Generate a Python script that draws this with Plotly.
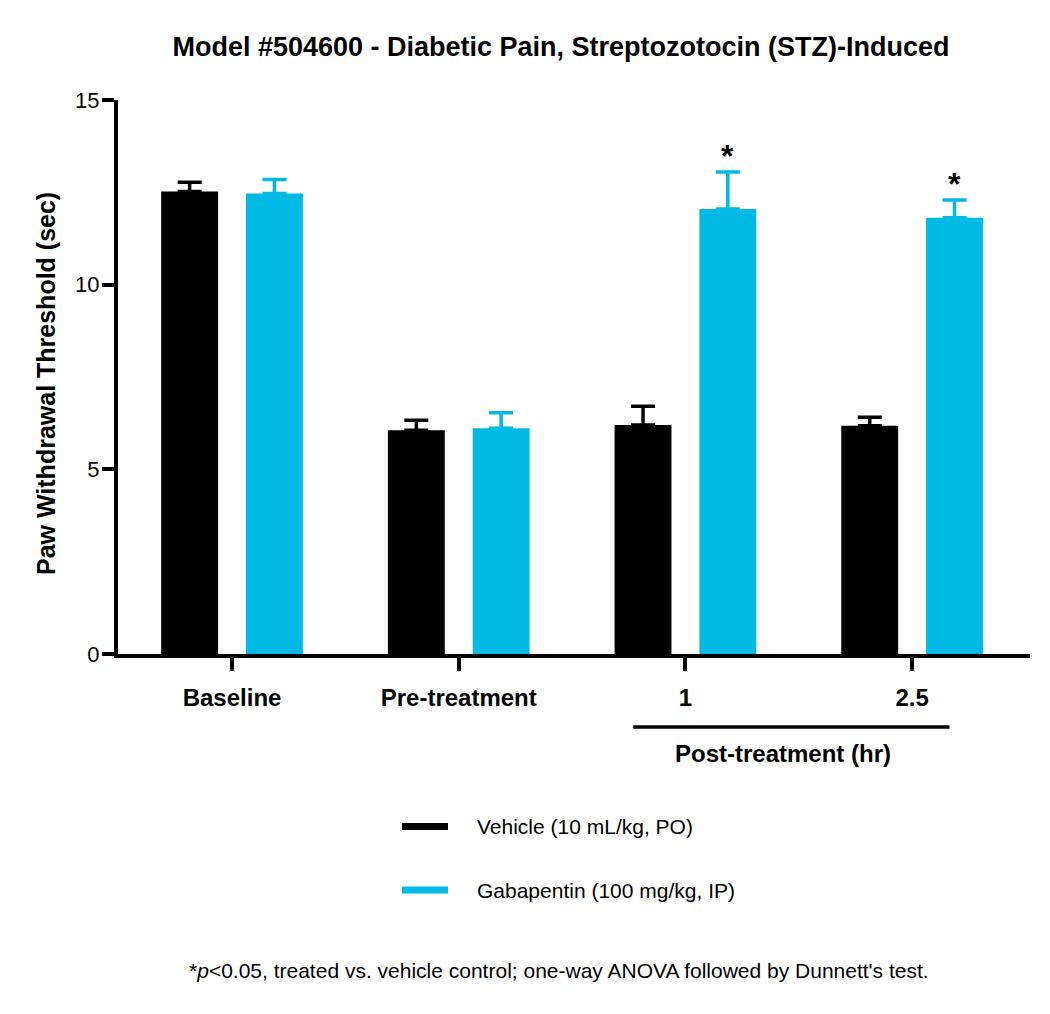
import plotly.graph_objects as go

categories = ["Baseline", "Pre-treatment", "1", "2.5"]
vehicle_mean = [12.52, 6.06, 6.20, 6.18]
vehicle_err = [0.25, 0.27, 0.51, 0.23]
gaba_mean = [12.47, 6.11, 12.05, 11.81]
gaba_err = [0.38, 0.42, 1.00, 0.48]
significant = [False, False, True, True]

vehicle_name = "Vehicle (10 mL/kg, PO)"
gaba_name = "Gabapentin (100 mg/kg, IP)"
col_vehicle = "#000000"
col_gaba = "#00B9E4"

FONT = "Arial, 'Liberation Sans', sans-serif"
BARGAP = 0.252
BARGROUPGAP = 0.329

# plot-area geometry (screen px) used to place decorations in paper coordinates
PL, PR, PT, PB = 118, 1030, 100, 654


def px(xp):
    return (xp - PL) / (PR - PL)


def py(yp):
    return (PB - yp) / (PB - PT)


fig = go.Figure()
fig.add_trace(go.Bar(
    x=categories, y=vehicle_mean, name=vehicle_name, marker_color=col_vehicle,
    marker_line_width=0, showlegend=False,
    error_y=dict(type="data", array=vehicle_err, arrayminus=[0]*4, symmetric=False,
                 color=col_vehicle, thickness=3.5, width=12)))
fig.add_trace(go.Bar(
    x=categories, y=gaba_mean, name=gaba_name, marker_color=col_gaba,
    marker_line_width=0, showlegend=False,
    error_y=dict(type="data", array=gaba_err, arrayminus=[0]*4, symmetric=False,
                 color=col_gaba, thickness=3.5, width=12)))

# legend (line symbols + labels)
for name, col, yc in [(vehicle_name, col_vehicle, 826.5), (gaba_name, col_gaba, 890)]:
    fig.add_shape(type="line", xref="paper", yref="paper", x0=px(402), x1=px(448),
                  y0=py(yc), y1=py(yc), line=dict(color=col, width=7))
    fig.add_annotation(xref="paper", yref="paper", x=px(475), y=py(yc), text=name,
                       showarrow=False, xanchor="left", yanchor="middle",
                       font=dict(family=FONT, size=21, color="black"))

# significance asterisks
offset = (1 - BARGAP) / 4
for i, sig in enumerate(significant):
    if sig:
        fig.add_annotation(x=i + offset, y=gaba_mean[i] + gaba_err[i], xref="x", yref="y",
                           text="<b>*</b>", showarrow=False, yanchor="bottom", yshift=-4,
                           font=dict(family=FONT, size=32, color="black"))

# Post-treatment bracket
fig.add_shape(type="line", xref="x", yref="paper", x0=1.77, x1=3.165, y0=py(727), y1=py(727),
              line=dict(color="black", width=3.5))
fig.add_annotation(x=2.43, y=py(753), xref="x", yref="paper", text="<b>Post-treatment (hr)</b>",
                   showarrow=False, yanchor="middle",
                   font=dict(family=FONT, size=24, color="black"))

# y-axis title
fig.add_annotation(xref="paper", yref="paper", x=px(46), y=py(384), textangle=-90,
                   text="<b>Paw Withdrawal Threshold (sec)</b>", showarrow=False,
                   xanchor="center", yanchor="middle",
                   font=dict(family=FONT, size=25, color="black"))

# footnote
fig.add_annotation(xref="paper", yref="paper", x=px(559), y=py(970),
                   text="*<i>p</i><0.05, treated vs. vehicle control; one-way ANOVA followed by Dunnett's test.",
                   showarrow=False, xanchor="center", yanchor="middle",
                   font=dict(family=FONT, size=21, color="black"))

fig.update_layout(
    width=1050, height=1014,
    margin=dict(l=110, r=28, t=92, b=368),
    paper_bgcolor="white", plot_bgcolor="white",
    barmode="group", bargap=BARGAP, bargroupgap=BARGROUPGAP,
    font=dict(family=FONT, color="black"),
    showlegend=False,
    title=dict(text="<b>Model #504600 - Diabetic Pain, Streptozotocin (STZ)-Induced</b>",
               x=px(561), xref="paper", xanchor="center",
               y=1 - 39 / 1014, yanchor="middle",
               font=dict(family=FONT, size=27, color="black")),
    xaxis=dict(type="category", range=[-0.503, 3.52], showline=True, linecolor="black",
               linewidth=4, ticks="outside", ticklen=13, tickwidth=4, tickcolor="black",
               tickfont=dict(family=FONT, size=24, color="black"),
               tickvals=categories,
               ticktext=["<b>" + c + "</b>" for c in categories],
               showgrid=False, zeroline=False, ticklabelstandoff=6),
    yaxis=dict(range=[0, 15], tickvals=[0, 5, 10, 15], showline=True, linecolor="black",
               linewidth=4, ticks="outside", ticklen=12, tickwidth=4, tickcolor="black",
               tickfont=dict(family=FONT, size=22, color="black"),
               showgrid=False, zeroline=False, ticklabelstandoff=-2),
)

fig.write_html("out.html")
